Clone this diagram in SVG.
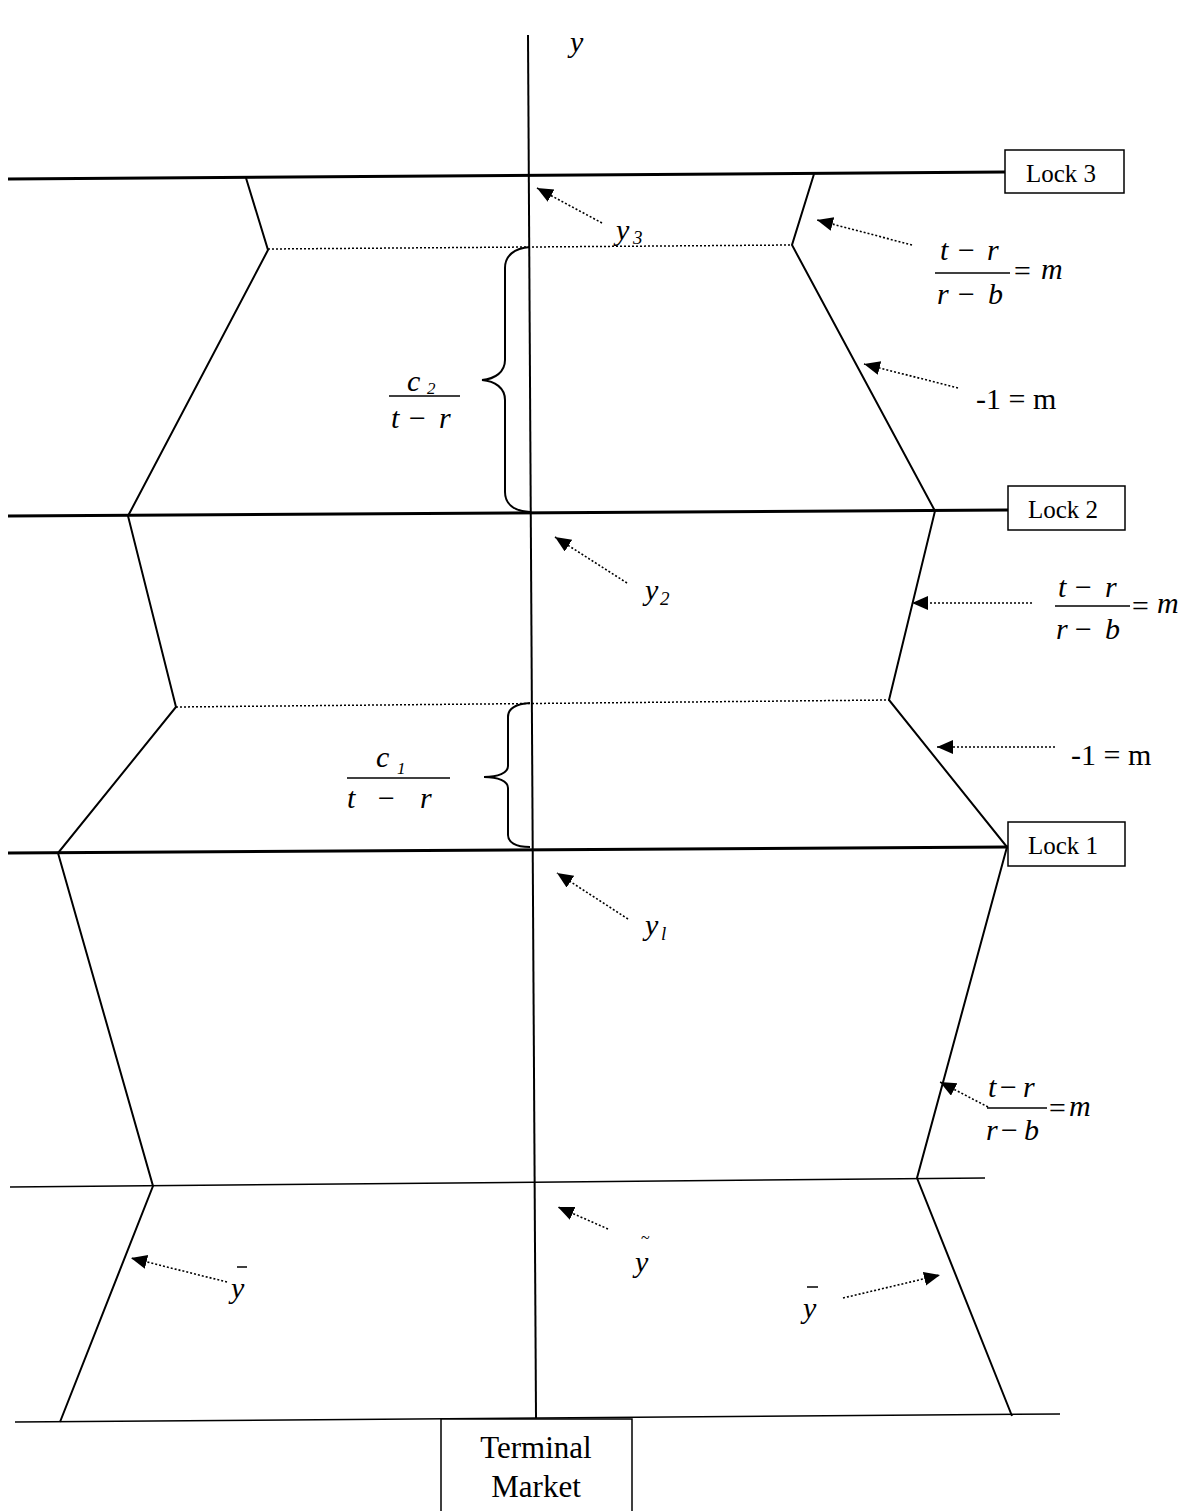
<svg xmlns="http://www.w3.org/2000/svg" width="1197" height="1511" viewBox="0 0 1197 1511">
<style>
.bg{fill:#fff}
.thick{stroke:#000;stroke-width:3;fill:none}
.med{stroke:#000;stroke-width:2;fill:none}
.thin{stroke:#000;stroke-width:1.5;fill:none}
.dot{stroke:#000;stroke-width:1.5;stroke-dasharray:2 2;fill:none}
.arr{stroke:#000;stroke-width:1.6;stroke-dasharray:2 2;fill:none;marker-end:url(#ah)}
.box{fill:#fff;stroke:#000;stroke-width:1.5}
.rm{font-family:'Liberation Serif','Times New Roman',serif;fill:#000}
.it{font-family:'Liberation Serif','Times New Roman',serif;font-style:italic;fill:#000}
</style>
<defs>
<marker id="ah" markerUnits="userSpaceOnUse" markerWidth="18" markerHeight="16" refX="16" refY="7" orient="auto">
<path d="M0,0 L16,7 L0,14 z" fill="#000"/>
</marker>
</defs>
<rect class="bg" x="0" y="0" width="1197" height="1511"/>

<g id="axis">
<line class="med" x1="528" y1="35" x2="536" y2="1418"/>
<text class="it" x="570" y="52" font-size="30">y</text>
</g>

<g id="levels">
<line class="thick" x1="8" y1="179" x2="1005" y2="172"/>
<line class="thick" x1="8" y1="516" x2="1008" y2="510"/>
<line class="thick" x1="8" y1="853" x2="1008" y2="847"/>
<line class="thin" x1="10" y1="1187" x2="985" y2="1178"/>
<line class="thin" x1="15" y1="1422" x2="1060" y2="1414"/>
<line class="dot" x1="268" y1="249" x2="792" y2="245"/>
<line class="dot" x1="176" y1="707" x2="889" y2="700"/>
</g>

<g id="outline">
<polyline class="med" points="246,178 268,250 128,516 176,707 58,853 153,1186 60,1422"/>
<polyline class="med" points="814,174 792,245 935,511 889,700 1007,847 917,1178 1012,1416"/>
</g>

<g id="lock3">
<rect class="box" x="1005" y="150" width="119" height="43"/>
<text class="rm" x="1026" y="182" font-size="25">Lock 3</text>
</g>
<g id="lock2">
<rect class="box" x="1008" y="486" width="117" height="44"/>
<text class="rm" x="1028" y="518" font-size="25">Lock 2</text>
</g>
<g id="lock1">
<rect class="box" x="1008" y="822" width="117" height="44"/>
<text class="rm" x="1028" y="854" font-size="25">Lock 1</text>
</g>

<g id="terminal">
<rect class="box" x="441" y="1419" width="191" height="100"/>
<text class="rm" x="536" y="1458" font-size="31" text-anchor="middle">Terminal</text>
<text class="rm" x="536" y="1497" font-size="31" text-anchor="middle">Market</text>
</g>

<g id="brace2">
<path class="med" d="M530,247 C514,248 505,256 505,268 L505,360 C505,372 495,379 482,380 C495,381 505,388 505,400 L505,492 C505,504 514,511 530,512"/>
<text class="it" x="407" y="391" font-size="30">c</text>
<text class="it" x="427" y="394" font-size="17">2</text>
<line class="thin" x1="389" y1="396" x2="460" y2="396"/>
<text class="it" x="391" y="428" font-size="30">t</text>
<text class="it" x="407" y="428" font-size="30">−</text>
<text class="it" x="439" y="428" font-size="30">r</text>
</g>

<g id="brace1">
<path class="med" d="M530,703 C515,704 508,709 508,717 L508,766 C508,773 498,777 484,777 C498,777 508,781 508,788 L508,835 C508,842 515,847 530,847"/>
<text class="it" x="376" y="767" font-size="30">c</text>
<text class="it" x="397" y="774" font-size="17">1</text>
<line class="thin" x1="347" y1="778" x2="450" y2="778"/>
<text class="it" x="347" y="808" font-size="30">t</text>
<text class="it" x="376" y="808" font-size="30">−</text>
<text class="it" x="420" y="808" font-size="30">r</text>
</g>

<g id="label-y3">
<text class="it" x="616" y="240" font-size="30">y</text>
<text class="it" x="633" y="244" font-size="19">3</text>
</g>
<g id="label-y2">
<text class="it" x="645" y="600" font-size="30">y</text>
<text class="it" x="660" y="605" font-size="19">2</text>
</g>
<g id="label-y1">
<text class="it" x="645" y="935" font-size="30">y</text>
<text class="it" x="661" y="940" font-size="19">l</text>
</g>

<g id="label-slope3">
<text class="it" x="940" y="260" font-size="30">t</text>
<text class="it" x="956" y="260" font-size="30">−</text>
<text class="it" x="987" y="260" font-size="30">r</text>
<line class="thin" x1="935" y1="273" x2="1010" y2="273"/>
<text class="it" x="937" y="304" font-size="30">r</text>
<text class="it" x="956" y="304" font-size="30">−</text>
<text class="it" x="988" y="304" font-size="30">b</text>
<text class="it" x="1012" y="281" font-size="30">=</text>
<text class="it" x="1041" y="279" font-size="30">m</text>
</g>
<g id="label-m1a">
<text class="rm" x="976" y="409" font-size="30">-1 = m</text>
</g>

<g id="label-slope2">
<text class="it" x="1058" y="597" font-size="30">t</text>
<text class="it" x="1073" y="597" font-size="30">−</text>
<text class="it" x="1105" y="597" font-size="30">r</text>
<line class="thin" x1="1055" y1="606" x2="1130" y2="606"/>
<text class="it" x="1056" y="639" font-size="30">r</text>
<text class="it" x="1073" y="639" font-size="30">−</text>
<text class="it" x="1105" y="639" font-size="30">b</text>
<text class="it" x="1130" y="616" font-size="30">=</text>
<text class="it" x="1157" y="613" font-size="30">m</text>
</g>
<g id="label-m1b">
<text class="rm" x="1071" y="765" font-size="30">-1 = m</text>
</g>

<g id="label-slope1">
<text class="it" x="988" y="1097" font-size="30">t</text>
<text class="it" x="998" y="1097" font-size="30">−</text>
<text class="it" x="1023" y="1097" font-size="30">r</text>
<line class="thin" x1="987" y1="1108" x2="1047" y2="1108"/>
<text class="it" x="986" y="1140" font-size="30">r</text>
<text class="it" x="999" y="1140" font-size="30">−</text>
<text class="it" x="1024" y="1140" font-size="30">b</text>
<text class="it" x="1047" y="1118" font-size="30">=</text>
<text class="it" x="1069" y="1116" font-size="30">m</text>
</g>

<g id="label-ybar-left">
<text class="it" x="231" y="1298" font-size="30">y</text>
<line class="thin" x1="237" y1="1267" x2="247" y2="1267"/>
</g>
<g id="label-ytilde">
<text class="it" x="635" y="1272" font-size="30">y</text>
<text class="rm" x="641" y="1243" font-size="16">~</text>
</g>
<g id="label-ybar-right">
<text class="it" x="803" y="1318" font-size="30">y</text>
<line class="thin" x1="807" y1="1287" x2="818" y2="1287"/>
</g>

<g id="connectors">
<line class="arr" x1="602" y1="223" x2="537" y2="188"/>
<line class="arr" x1="912" y1="245" x2="817" y2="220"/>
<line class="arr" x1="958" y1="388" x2="864" y2="364"/>
<line class="arr" x1="627" y1="583" x2="555" y2="537"/>
<line class="arr" x1="1032" y1="603" x2="912" y2="603"/>
<line class="arr" x1="1055" y1="747" x2="937" y2="747"/>
<line class="arr" x1="628" y1="919" x2="557" y2="873"/>
<line class="arr" x1="988" y1="1107" x2="940" y2="1082"/>
<line class="arr" x1="227" y1="1282" x2="131" y2="1258"/>
<line class="arr" x1="608" y1="1229" x2="558" y2="1207"/>
<line class="arr" x1="843" y1="1298" x2="940" y2="1275"/>
</g>
</svg>
